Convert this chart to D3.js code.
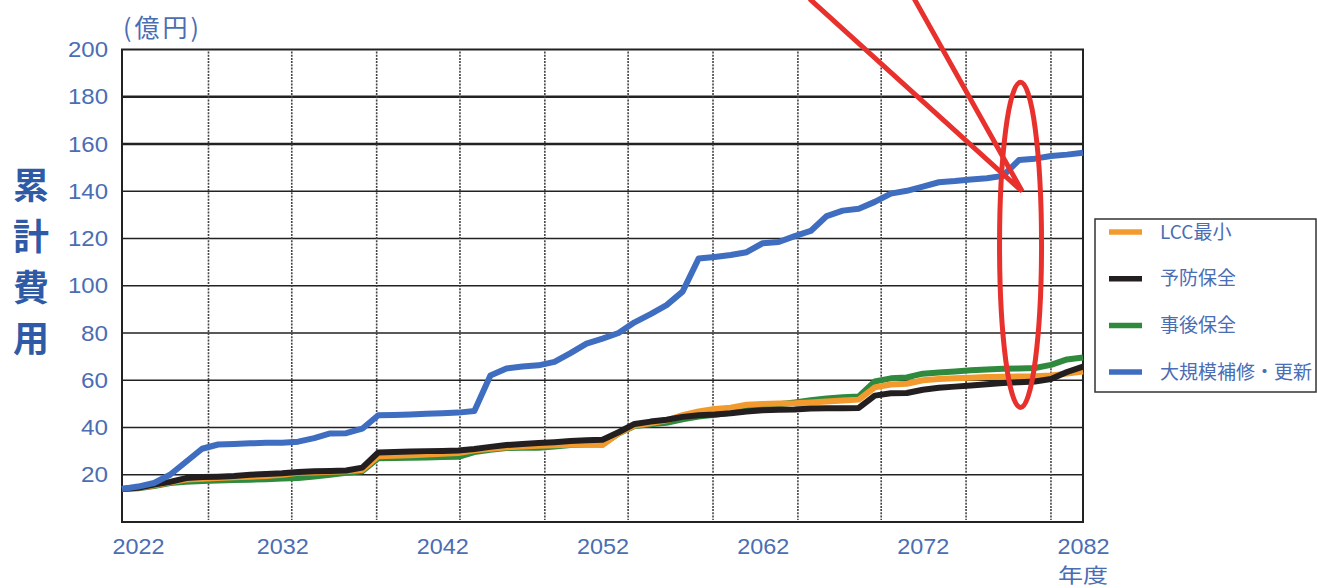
<!DOCTYPE html>
<html>
<head>
<meta charset="utf-8">
<script src="https://cdn.jsdelivr.net/npm/d3@7"></script>
<style>
  body { margin: 0; background: #fff; }
  text { font-family: "Noto Sans CJK JP", "Noto Sans", sans-serif; }
</style>
</head>
<body>
<svg id="chart" width="1317" height="588"></svg>
<script>
const years = d3.range(2022, 2083);

const lccMin = [14.0, 14.5, 15.5, 16.8, 18.0, 18.3, 18.6, 18.9, 19.2, 19.5,
  20.0, 20.8, 21.0, 21.3, 21.5, 22.0, 27.8, 28.0, 28.3, 28.6,
  28.9, 29.2, 30.4, 31.0, 31.6, 32.0, 32.3, 32.5, 32.7, 32.7,
  32.6, 37.5, 40.8, 41.8, 43.0, 45.2, 46.8, 47.8, 48.4, 49.6,
  50.0, 50.2, 50.3, 50.6, 51.0, 51.4, 51.8, 57.0, 58.2, 58.5,
  60.0, 60.5, 60.8, 61.1, 61.4, 61.5, 61.6, 61.7, 62.0, 62.8, 63.7];

const preventive = [14.0, 14.5, 15.8, 17.0, 18.6, 19.0, 19.2, 19.5, 20.0, 20.3,
  20.6, 21.2, 21.5, 21.6, 21.8, 23.0, 29.4, 29.6, 29.8, 30.0,
  30.1, 30.3, 30.9, 31.8, 32.6, 33.0, 33.4, 33.8, 34.3, 34.6,
  34.8, 38.0, 41.5, 42.5, 43.3, 44.5, 45.2, 45.5, 46.0, 46.8,
  47.3, 47.5, 47.6, 48.0, 48.2, 48.2, 48.3, 53.5, 54.5, 54.6,
  56.0, 56.8, 57.3, 57.8, 58.3, 58.8, 59.2, 59.5, 60.5, 63.5, 65.8];

const corrective = [14.0, 14.3, 15.2, 16.5, 17.0, 17.4, 17.6, 17.8, 17.9, 18.1,
  18.4, 18.6, 19.3, 20.0, 20.8, 21.5, 27.0, 27.1, 27.2, 27.3,
  27.5, 27.6, 29.6, 30.6, 31.3, 31.4, 31.4, 32.0, 32.6, 32.8,
  32.9, 37.5, 40.6, 41.4, 42.0, 43.5, 44.6, 45.4, 46.2, 47.5,
  48.8, 49.8, 50.6, 51.5, 52.3, 52.8, 53.1, 59.5, 60.8, 61.2,
  62.8, 63.3, 63.7, 64.2, 64.6, 64.9, 65.0, 65.2, 66.5, 68.8, 69.6];

const largeRepair = [14.0, 15.0, 16.5, 20.0, 25.5, 31.0, 32.8, 33.0, 33.3, 33.5,
  33.5, 34.0, 35.5, 37.5, 37.6, 39.5, 45.2, 45.3, 45.5, 45.8,
  46.0, 46.3, 47.0, 62.0, 65.0, 65.8, 66.3, 67.8, 71.5, 75.5,
  77.6, 80.0, 84.5, 88.0, 91.8, 97.5, 111.5, 112.2, 113.0, 114.2,
  118.0, 118.5, 121.0, 123.2, 129.5, 131.8, 132.6, 135.5, 139.0, 140.2,
  142.0, 143.8, 144.3, 145.0, 145.5, 146.5, 153.2, 153.8, 154.9, 155.5, 156.3];

const seriesNames = ["LCC最小", "予防保全", "事後保全", "大規模補修・更新"];
const seriesColors = ["#f39a2e", "#231f20", "#2f8a3e", "#3f6dbf"];
const seriesValues = [lccMin, preventive, corrective, largeRepair];
// draw order: green at the bottom, then orange, black, blue on top
const drawOrder = [2, 0, 1, 3];

const yTicks = [20, 40, 60, 80, 100, 120, 140, 160, 180, 200];
const boldGrid = [160, 180];
const xTicks = [2022, 2032, 2042, 2052, 2062, 2072, 2082];
const dotGrid = [2027.4, 2032.6, 2037.9, 2043.1, 2048.4, 2053.6, 2058.9, 2064.2, 2069.4, 2074.7, 2080.0];

const width = 1317, height = 588;
const margin = { top: 49.5, right: 234, bottom: 66, left: 122 };

const svg = d3.select("#chart");

const x = d3.scaleLinear()
  .domain([2022, 2082])
  .range([margin.left, width - margin.right]);

const y = d3.scaleLinear()
  .domain([0, 200])
  .range([height - margin.bottom, margin.top]);

const textBlue = "#4a6db4";

// horizontal grid
svg.append("g")
  .selectAll("line")
  .data(yTicks.filter(d => d < 200))
  .join("line")
  .attr("x1", x(2022)).attr("x2", x(2082))
  .attr("y1", d => y(d)).attr("y2", d => y(d))
  .attr("stroke", "#222")
  .attr("stroke-width", d => boldGrid.includes(d) ? 2.6 : 1.5);

// dotted vertical grid
svg.append("g")
  .selectAll("line")
  .data(dotGrid)
  .join("line")
  .attr("x1", d => x(d)).attr("x2", d => x(d))
  .attr("y1", y(200) + 2).attr("y2", y(0) - 2)
  .attr("stroke", "#444")
  .attr("stroke-width", 1.6)
  .attr("stroke-dasharray", "2,1.2");

// frame
svg.append("rect")
  .attr("x", x(2022)).attr("y", y(200))
  .attr("width", x(2082) - x(2022))
  .attr("height", y(0) - y(200))
  .attr("fill", "none")
  .attr("stroke", "#222")
  .attr("stroke-width", 2);

// y axis labels
const yAxis = d3.axisLeft(y).tickValues(yTicks).tickSize(0).tickPadding(14);
svg.append("g")
  .attr("transform", `translate(${x(2022)},0)`)
  .call(yAxis)
  .call(g => g.select(".domain").remove())
  .call(g => g.selectAll("text")
    .attr("fill", textBlue)
    .style("font-size", "22px")
    .style("font-family", "'Liberation Sans', sans-serif")
    .attr("textLength", d => d >= 100 ? 40 : 27)
    .attr("lengthAdjust", "spacingAndGlyphs"));

// x axis labels
const xAxis = d3.axisBottom(x).tickValues(xTicks).tickFormat(d3.format("d")).tickSize(0).tickPadding(16);
svg.append("g")
  .attr("transform", `translate(0,${y(0)})`)
  .call(xAxis)
  .call(g => g.select(".domain").remove())
  .call(g => g.selectAll("text")
    .attr("fill", textBlue)
    .style("font-size", "22px")
    .style("font-family", "'Liberation Sans', sans-serif")
    .attr("dx", d => d === 2022 ? 16 : 0)
    .attr("textLength", 52)
    .attr("lengthAdjust", "spacingAndGlyphs"));

// unit label
svg.append("text")
  .attr("x", x(2022) + 1)
  .attr("y", 37)
  .attr("fill", textBlue)
  .style("font-size", "25px")
  .attr("textLength", 76)
  .attr("lengthAdjust", "spacing")
  .text("(億円)");

// year label
svg.append("text")
  .attr("x", x(2082))
  .attr("y", 583)
  .attr("text-anchor", "middle")
  .attr("fill", textBlue)
  .style("font-size", "20px")
  .attr("textLength", 50)
  .attr("lengthAdjust", "spacingAndGlyphs")
  .text("年度");

// vertical y title
const yTitle = "累計費用".split("");
svg.append("g")
  .selectAll("text")
  .data(yTitle)
  .join("text")
  .attr("x", 31)
  .attr("y", (d, i) => 199 + i * 51)
  .attr("text-anchor", "middle")
  .attr("fill", "#2f5aa6")
  .style("font-size", "36px")
  .style("font-weight", "bold")
  .text(d => d);

// series lines
const line = d3.line()
  .x((d, i) => x(years[i]))
  .y(d => y(d));

svg.append("g")
  .selectAll("path")
  .data(drawOrder)
  .join("path")
  .attr("fill", "none")
  .attr("stroke", k => seriesColors[k])
  .attr("stroke-width", 6)
  .attr("stroke-linejoin", "round")
  .attr("d", k => line(seriesValues[k]));

// legend
const legend = svg.append("g")
  .attr("transform", "translate(1095,219)");

legend.append("rect")
  .attr("width", 221)
  .attr("height", 173)
  .attr("fill", "#fff")
  .attr("stroke", "#333")
  .attr("stroke-width", 1.5);

const item = legend.selectAll("g.item")
  .data(seriesNames)
  .join("g")
  .attr("class", "item")
  .attr("transform", (d, i) => `translate(0,${13 + i * 46.7})`);

item.append("line")
  .attr("x1", 14).attr("x2", 47)
  .attr("stroke", (d, i) => seriesColors[i])
  .attr("stroke-width", 5.5);

item.append("text")
  .attr("x", 65)
  .attr("dy", "0.35em")
  .attr("fill", textBlue)
  .style("font-size", "19px")
  .text(d => d);

// red annotation (arrow + ellipse)
const note = svg.append("g")
  .attr("fill", "none")
  .attr("stroke", "#e8312d")
  .attr("stroke-width", 5)
  .attr("stroke-linecap", "round");

note.append("polyline")
  .attr("points", [[x(2065.0), y(221)], [x(2078.2), y(140)], [x(2071.5), y(221)]].join(" "));

note.append("ellipse")
  .attr("cx", x(2078.1))
  .attr("cy", y(117.3))
  .attr("rx", 21)
  .attr("ry", y(48.5) - y(117.3));
</script>
</body>
</html>
